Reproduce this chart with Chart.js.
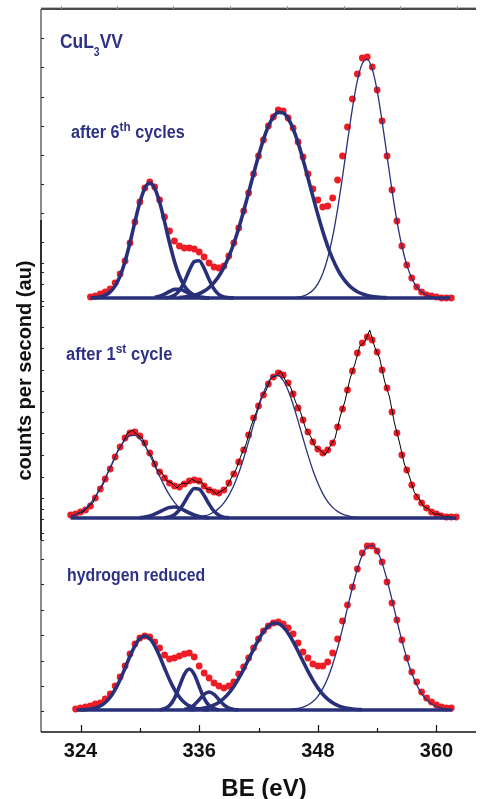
<!DOCTYPE html>
<html>
<head>
<meta charset="utf-8">
<title>CuL3VV Auger spectra</title>
<script src="https://cdn.jsdelivr.net/npm/chart.js@4.4.0/dist/chart.umd.min.js"></script>
<style>
  html, body { margin: 0; padding: 0; background: #fff; }
  #wrap { width: 480px; height: 799px; position: relative; }
</style>
</head>
<body>
<div id="wrap"><canvas id="xps"></canvas></div>
<script>
// ---- data (counts, arbitrary units) ----
const STEP = 0.5; // eV between stored samples

// vertical offsets of the three stacked spectra
const OFFSET_6TH = 434;
const OFFSET_1ST = 214;
const OFFSET_H2 = 22;

// after 6th cycles
const p6Start = 325.0;
const p6Data = [1, 2, 4, 6, 9, 15, 24, 37, 55, 76,
  96, 110, 116, 111, 98, 81, 67, 57, 52, 50,
  50, 49, 46, 41, 35, 31, 30, 32, 42, 55,
  70, 87, 105, 124, 142, 158, 172, 181, 188, 187,
  180, 170, 156, 141, 124, 109, 98, 91, 92, 100,
  118, 142, 171, 199, 224, 240, 241, 231, 208, 177,
  142, 108, 77, 52, 33, 20, 11, 6, 3, 2,
  1, 0, 0, 0];
const p6Range = [325.1, 361.4];
const p6AStart = 325.0;
const p6A = [0.2, 0.4, 1.2, 2.8, 6.1, 12.1, 22.0, 36.5, 55.2, 76.1, 95.7, 109.8, 115,
  109.8, 95.7, 76.1, 55.2, 36.5, 22.0, 12.1, 6.1, 2.8, 1.2, 0.4, 0.2];
const p6TStart = 331.5;
const p6T = [0.6, 1.8, 3.9, 6.5, 8.6, 8.8, 7.0, 4.4, 2.1, 0.8, 0.3, 0.1];
const p6SStart = 332.5;
const p6S = [0.2, 0.8, 2.7, 7.5, 16.3, 27.6, 36.3, 37.2, 29.7, 18.5, 9.0, 3.4, 1.0, 0.3, 0.1];
const p6BStart = 334.0;
const p6B = [0.6, 1.0, 1.7, 2.8, 4.4, 6.9, 10.4, 15.4, 22.0, 30.6, 41.4, 54.5, 69.8, 86.9,
  105.3, 124.1, 142.1, 158.4, 171.7, 181.0, 185.6, 185.1, 179.5, 169.3, 155.4, 138.6,
  120.3, 101.6, 83.4, 66.6, 51.7, 39.1, 28.7, 20.5, 14.3, 9.6, 6.3, 4.1, 2.5, 1.5, 0.9, 0.5, 0.3];
const p6CStart = 345.0;
const p6C = [0.2, 0.4, 0.9, 1.9, 4.0, 7.7, 14.2, 24.5, 40.0, 61.3, 88.9, 121.3, 156.3,
  189.7, 217.3, 234.5, 238.7, 229.1, 207.3, 176.8, 142.3, 107.9, 77.1, 52.0, 33.1,
  19.8, 11.2, 6.0, 3.0, 1.4, 0.6, 0.3, 0.1];

// after 1st cycle
const p1Start = 323.0;
const p1Data = [3, 4, 6, 8, 12, 20, 29, 39, 49, 61,
  71, 80, 85, 86, 82, 75, 65, 54, 46, 40,
  35, 32, 31, 34, 37, 38, 37, 32, 28, 26,
  25, 28, 35, 44, 56, 68, 83, 100, 112, 123,
  134, 141, 145, 143, 135, 124, 110, 98, 86, 76,
  69, 65, 68, 75, 91, 109, 128, 147, 165, 175,
  181, 178, 166, 148, 130, 106, 85, 63, 48, 33,
  21, 15, 10, 6, 4, 2, 1, 1, 1];
const p1RawStart = 323.25;
const p1Raw = [2, 5, 6, 11, 15, 26, 33, 45, 55, 67,
  75, 85, 88, 83, 80, 68, 61, 48, 45, 37,
  35, 30, 35, 34, 39, 36, 36, 29, 28, 24,
  27, 30, 40, 49, 63, 74, 92, 105, 120, 127,
  140, 142, 147, 137, 131, 116, 106, 90, 82, 71,
  68, 63, 72, 80, 101, 117, 139, 154, 172, 176,
  188, 171, 160, 137, 121, 95, 76, 54, 42, 26,
  19, 11, 9, 4, 4, 1, 2, 0];
const p1Range = [323.0, 362.0];
const p1AStart = 323.0;
const p1A = [2.0, 3.5, 5.9, 9.4, 14.5, 21.3, 29.7, 39.6, 50.4, 61.1, 70.8, 78.1, 82.3,
  82.7, 79.3, 72.5, 63.2, 52.6, 41.7, 31.6, 22.8, 15.7, 10.3, 6.5, 3.9, 2.2, 1.2, 0.6, 0.3];
const p1TStart = 330.0;
const p1T = [0.4, 0.9, 2.0, 3.8, 6.2, 8.7, 10.5, 11.0, 9.9, 7.7, 5.2, 3.0, 1.5, 0.6, 0.2];
const p1SStart = 332.5;
const p1S = [0.3, 1.1, 3.3, 8.1, 15.6, 24.0, 29.5, 28.8, 22.4, 13.9, 6.9, 2.7, 0.8, 0.2];
const p1BStart = 335.0;
const p1B = [0.3, 0.6, 1.1, 2.0, 3.5, 6.0, 9.7, 15.1, 22.6, 32.6, 45.0, 59.8, 76.4, 93.7,
  110.4, 124.9, 135.9, 142.0, 142.5, 137.5, 127.4, 113.5, 97.1, 79.8, 63.1, 47.8, 34.9,
  24.4, 16.4, 10.6, 6.6, 3.9, 2.3, 1.2, 0.7, 0.3];

// hydrogen reduced
const h2Start = 323.5;
const h2Data = [1, 2, 3, 4, 6, 7, 11, 16, 24, 33,
  44, 56, 66, 72, 74, 73, 68, 62, 55, 51,
  52, 54, 56, 57, 53, 44, 37, 32, 27, 24,
  22, 24, 28, 36, 43, 52, 62, 71, 79, 84,
  87, 88, 86, 82, 76, 67, 58, 52, 46, 44,
  44, 48, 57, 71, 89, 105, 123, 141, 157, 164,
  164, 159, 148, 128, 107, 90, 70, 52, 38, 28,
  18, 12, 8, 5, 3, 2, 2];
const h2Range = [323.6, 361.6];
const h2AStart = 324.0;
const h2A = [0.2, 0.4, 1.0, 2.1, 4.1, 7.5, 12.9, 20.5, 30.3, 41.8, 53.7, 64.1, 71.4, 74,
  71.4, 64.1, 53.7, 41.8, 30.3, 20.5, 12.9, 7.5, 4.1, 2.1, 1.0, 0.4, 0.2];
const h2SStart = 332.0;
const h2S = [0.3, 1.3, 4.4, 11.7, 23.5, 35.7, 41, 35.7, 23.5, 11.7, 4.4, 1.3, 0.3];
const h2TStart = 334.5;
const h2T = [0.6, 1.9, 5.2, 10.3, 15.7, 18, 15.7, 10.3, 5.2, 1.9, 0.6, 0.1];
const h2BStart = 335.0;
const h2B = [0.3, 0.6, 1.1, 1.9, 3.1, 5.0, 7.8, 11.7, 16.9, 23.6, 31.6, 40.7, 50.7, 60.8,
  70.2, 78.2, 83.9, 86.7, 86.4, 83.0, 76.8, 68.4, 58.8, 48.7, 38.8, 29.9, 22.1, 15.8,
  10.9, 7.2, 4.6, 2.8, 1.7, 1.0, 0.5, 0.3];
const h2CStart = 344.5;
const h2C = [0.2, 0.4, 0.8, 1.5, 2.8, 5.0, 8.4, 13.7, 21.4, 31.8, 45.5, 62.2, 81.4, 102.1,
  122.5, 140.8, 155.0, 163.2, 164.7, 159.0, 147.1, 130.2, 110.4, 89.6, 69.6, 51.8, 36.9,
  25.2, 16.4, 10.3, 6.2, 3.5, 1.9, 1.0, 0.5];

// axes
const xMajorTicks = [324, 336, 348, 360];
const xMinorTicks = [330, 342, 354];
const xTopTicks = [322.0, 327.7, 333.4, 339.1, 344.9, 350.6, 356.3, 362.1];
const yTicks6th = [694, 665, 635, 606, 577, 548, 519, 490, 460, 431];
const yTicks1st = [469, 448, 426, 405, 384, 362, 341, 320, 299, 277, 255, 234, 213, 192];
const yTicksH2 = [223, 199, 173, 148, 122, 97, 71, 46, 21];

// ---- styles ----
const BLUE = '#29307a';
const RED = '#ee1d25';
const LABEL = '#2d3285';
const THICK = 3.6;
const THIN = 1.3;

function series(start, values, offset) {
  return values.map((v, i) => ({ x: start + i * STEP, y: v + offset }));
}
function flat(range, offset) {
  return range.map((e) => ({ x: e, y: offset }));
}
function fit(data, width) {
  return {
    data, borderColor: BLUE, borderWidth: width, pointRadius: 0,
    cubicInterpolationMode: 'monotone', fill: false, order: 0,
  };
}
function dots(data) {
  return {
    data, showLine: false, pointRadius: 3.4, pointBorderWidth: 0,
    pointBackgroundColor: RED, borderColor: RED, order: 2,
  };
}

const datasets = [
  // after 6th cycles
  dots(series(p6Start, p6Data, OFFSET_6TH)),
  fit(flat(p6Range, OFFSET_6TH), THICK),
  fit(series(p6AStart, p6A, OFFSET_6TH), THICK),
  fit(series(p6TStart, p6T, OFFSET_6TH), THICK),
  fit(series(p6SStart, p6S, OFFSET_6TH), THICK),
  fit(series(p6BStart, p6B, OFFSET_6TH), THICK),
  fit(series(p6CStart, p6C, OFFSET_6TH), THIN),
  // after 1st cycle
  dots(series(p1Start, p1Data, OFFSET_1ST)),
  {
    data: series(p1RawStart, p1Raw, OFFSET_1ST), borderColor: '#000', borderWidth: 1,
    pointRadius: 0, tension: 0, fill: false, order: 1,
  },
  fit(flat(p1Range, OFFSET_1ST), THICK),
  fit(series(p1AStart, p1A, OFFSET_1ST), THIN),
  fit(series(p1TStart, p1T, OFFSET_1ST), THICK),
  fit(series(p1SStart, p1S, OFFSET_1ST), THICK),
  fit(series(p1BStart, p1B, OFFSET_1ST), THIN),
  // hydrogen reduced
  dots(series(h2Start, h2Data, OFFSET_H2)),
  fit(flat(h2Range, OFFSET_H2), THICK),
  fit(series(h2AStart, h2A, OFFSET_H2), THICK),
  fit(series(h2SStart, h2S, OFFSET_H2), THICK),
  fit(series(h2TStart, h2T, OFFSET_H2), THICK),
  fit(series(h2BStart, h2B, OFFSET_H2), THICK),
  fit(series(h2CStart, h2C, OFFSET_H2), THIN),
];

// Draw condensed text made of pieces (normal, sub, super)
function drawPieces(ctx, pieces, x, y, squeeze) {
  ctx.save();
  ctx.translate(x, y);
  ctx.scale(squeeze, 1);
  let cx = 0;
  pieces.forEach((p) => {
    ctx.font = `bold ${p.size}px "Liberation Sans", Arial, sans-serif`;
    ctx.fillText(p.t, cx, p.dy || 0);
    cx += ctx.measureText(p.t).width + (p.gap || 0);
  });
  ctx.restore();
}

const frame = {
  id: 'frame',
  afterDatasetsDraw(chart) {
    const { ctx, chartArea: a, scales } = chart;
    const xs = scales.x;
    const ys = scales.y;
    ctx.save();

    // top border
    ctx.strokeStyle = '#bbb';
    ctx.lineWidth = 1;
    ctx.beginPath(); ctx.moveTo(a.left, a.top - 1.5); ctx.lineTo(a.right, a.top - 1.5); ctx.stroke();
    ctx.strokeStyle = '#111';
    ctx.lineWidth = 1.5;
    ctx.beginPath(); ctx.moveTo(a.left, a.top); ctx.lineTo(a.right, a.top); ctx.stroke();
    ctx.strokeStyle = '#999';
    ctx.lineWidth = 1;
    xTopTicks.forEach((e) => {
      const px = Math.round(xs.getPixelForValue(e)) + 0.5;
      ctx.beginPath(); ctx.moveTo(px, a.top); ctx.lineTo(px, a.top - 3); ctx.stroke();
    });

    // left axis: grey ends, dark middle
    ctx.lineWidth = 1.5;
    ctx.strokeStyle = '#666';
    ctx.beginPath(); ctx.moveTo(a.left, a.top); ctx.lineTo(a.left, a.bottom); ctx.stroke();
    ctx.strokeStyle = '#111';
    ctx.beginPath(); ctx.moveTo(a.left, 220); ctx.lineTo(a.left, 540); ctx.stroke();

    // left inward ticks
    ctx.lineWidth = 1;
    ctx.strokeStyle = '#222';
    [yTicks6th, yTicks1st, yTicksH2].forEach((list) => {
      list.forEach((v) => {
        const py = Math.round(ys.getPixelForValue(v)) + 0.5;
        ctx.beginPath(); ctx.moveTo(a.left, py); ctx.lineTo(a.left + 3, py); ctx.stroke();
      });
    });

    // bottom axis
    ctx.strokeStyle = '#111';
    ctx.lineWidth = 1.5;
    ctx.beginPath(); ctx.moveTo(a.left, a.bottom); ctx.lineTo(a.right, a.bottom); ctx.stroke();
    ctx.lineWidth = 1.2;
    xMajorTicks.forEach((e) => {
      const px = Math.round(xs.getPixelForValue(e)) + 0.5;
      ctx.beginPath(); ctx.moveTo(px, a.bottom); ctx.lineTo(px, a.bottom - 7); ctx.stroke();
    });
    xMinorTicks.forEach((e) => {
      const px = Math.round(xs.getPixelForValue(e)) + 0.5;
      ctx.beginPath(); ctx.moveTo(px, a.bottom); ctx.lineTo(px, a.bottom - 4); ctx.stroke();
    });

    // tick labels
    ctx.fillStyle = '#111';
    ctx.font = 'bold 20px "Liberation Sans", Arial, sans-serif';
    ctx.textAlign = 'center';
    ctx.textBaseline = 'alphabetic';
    xMajorTicks.forEach((e) => {
      ctx.fillText(String(e), xs.getPixelForValue(e), 757);
    });

    // axis titles
    ctx.font = 'bold 24px "Liberation Sans", Arial, sans-serif';
    ctx.fillText('BE (eV)', 264, 796);
    ctx.save();
    ctx.translate(31, (a.top + a.bottom) / 2);
    ctx.rotate(-Math.PI / 2);
    ctx.font = 'bold 20px "Liberation Sans", Arial, sans-serif';
    ctx.fillText('counts per second (au)', 0, 0);
    ctx.restore();

    // panel labels
    ctx.textAlign = 'left';
    ctx.fillStyle = LABEL;
    drawPieces(ctx, [
      { t: 'CuL', size: 20 },
      { t: '3', size: 12, dy: 8 },
      { t: 'VV', size: 20 },
    ], 60, 48, 0.87);
    drawPieces(ctx, [
      { t: 'after 6', size: 18 },
      { t: 'th', size: 13, dy: -7, gap: 5 },
      { t: 'cycles', size: 18 },
    ], 71, 138, 0.9);
    drawPieces(ctx, [
      { t: 'after 1', size: 18 },
      { t: 'st', size: 13, dy: -7, gap: 5 },
      { t: 'cycle', size: 18 },
    ], 66, 360, 0.92);
    drawPieces(ctx, [
      { t: 'hydrogen reduced', size: 18 },
    ], 67, 581, 0.88);

    ctx.restore();
  },
};

new Chart(document.getElementById('xps'), {
  type: 'line',
  data: { datasets },
  options: {
    responsive: true,
    maintainAspectRatio: false,
    animation: false,
    devicePixelRatio: 1,
    layout: { padding: { left: 41, top: 9, right: 0, bottom: 67 } },
    scales: {
      x: { type: 'linear', min: 320, max: 364, display: false },
      y: { type: 'linear', min: 0, max: 723, display: false },
    },
    plugins: {
      legend: { display: false },
      tooltip: { enabled: false },
    },
  },
  plugins: [frame],
});
</script>
</body>
</html>
